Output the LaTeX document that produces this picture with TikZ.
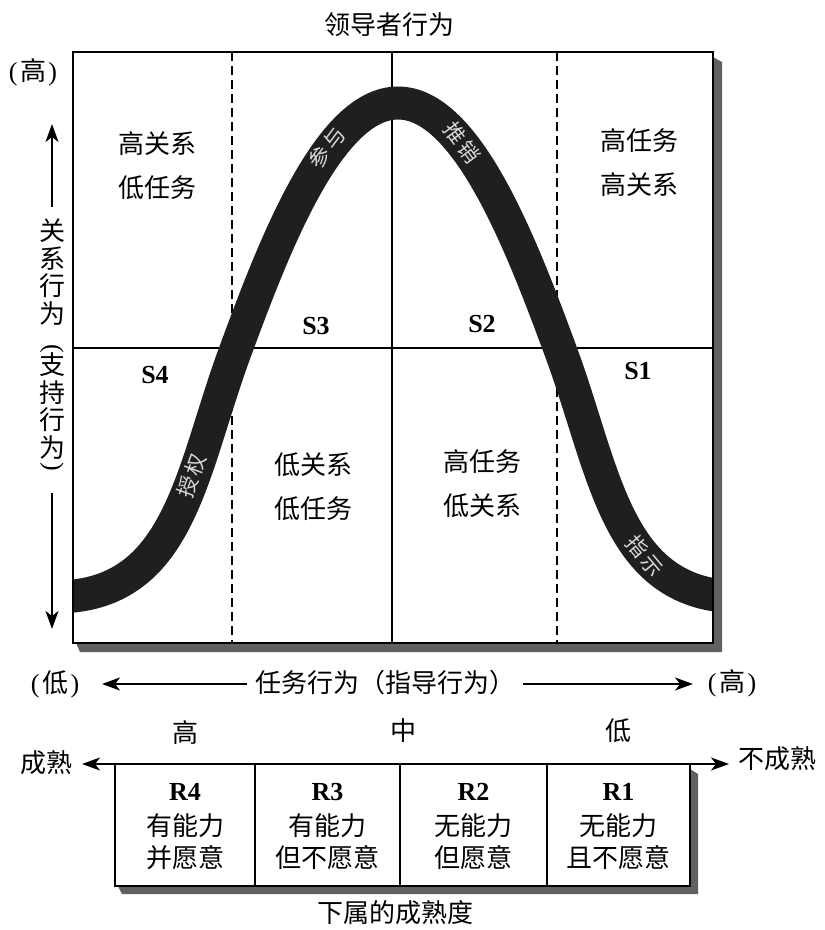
\documentclass[tikz,border=0pt]{standalone}
\usepackage{fontspec}
\setmainfont{Liberation Serif}
\newfontfamily\cjk{Noto Sans CJK SC}
\usetikzlibrary{arrows.meta}
\newcommand{\pz}[1]{(\hspace{2.5pt}{\cjk #1}\hspace{2.5pt})}
\begin{document}
\begin{tikzpicture}[x=1pt,y=-1pt,
  zh/.style={font=\cjk\fontsize{26}{30}\selectfont, inner sep=0pt},
  pn/.style={font=\fontsize{26}{30}\selectfont, inner sep=0pt},
  two/.style={align=center, font=\cjk\fontsize{26}{44}\selectfont, inner sep=0pt},
  vert/.style={align=center, font=\cjk\fontsize{26}{27.5}\selectfont, inner sep=0pt},
  slab/.style={font=\bfseries\fontsize{26}{30}\selectfont, inner sep=0pt},
  par/.style={font=\fontsize{26}{30}\selectfont, inner sep=0pt, rotate=-90},
  band/.style={font=\cjk\fontsize{21}{22}\selectfont, text=white!85!black, inner sep=0pt},
  frame/.style={line width=1.8pt},
  inner/.style={line width=1.3pt},
  dashline/.style={line width=1.3pt, dash pattern=on 9pt off 5pt},
  arr/.style={line width=1.8pt, -{Stealth[length=18pt,width=13pt,inset=5pt]}},
  biarr/.style={line width=1.8pt, {Stealth[length=18pt,width=13pt,inset=5pt]}-{Stealth[length=18pt,width=13pt,inset=5pt]}},
  shadow/.style={fill=black!62, draw=none}
]
\fill[white] (0,0) rectangle (825,930);
\useasboundingbox (0,0) rectangle (825,930);

% shadows
\path[shadow] (713,57) -- (722,62) -- (722,652) -- (80,652) -- (76,643) -- (713,643) -- cycle;
\path[shadow] (690,769) -- (698,774) -- (698,894) -- (122,894) -- (118,886) -- (690,886) -- cycle;

% inner grid lines
\draw[inner] (73,348) -- (713,348);
\draw[inner] (392,52) -- (392,643);
\draw[dashline] (232,52) -- (232,643);
\draw[dashline] (557,52) -- (557,643);

% the curve band
\begin{scope}
\clip (73,52) rectangle (713,643);
\draw[line width=33pt, draw=black!88]
  (55,597) .. controls (180,597) and (190,474) .. (235,352)
  .. controls (273,249) and (328,103) .. (398,103)
  .. controls (468,103) and (523,249) .. (561,352)
  .. controls (606,474) and (616,597) .. (741,597);
\end{scope}

% frame
\draw[frame] (73,52) rectangle (713,643);

% band labels
\node[band, rotate=53] (l1) at (327,148) {参\hspace{3pt}与};
\node[band, rotate=-53] (l2) at (462,143) {推\hspace{3pt}销};
\node[band, rotate=70] (l3) at (192,476) {授\hspace{3pt}权};
\node[band, rotate=-50] (l4) at (645,556) {指\hspace{3pt}示};

% titles
\node[zh] (top) at (389,25) {领导者行为};
\node[pn] (hi1) at (33,72) {\pz{高}};

% quadrant texts
\node[two] (q1) at (157,166) {高关系\\低任务};
\node[two] (q2) at (639,163) {高任务\\高关系};
\node[two] (q3) at (313,487) {低关系\\低任务};
\node[two] (q4) at (482,484) {高任务\\低关系};

\node[slab] (s3) at (316,326) {S3};
\node[slab] (s2) at (482,324) {S2};
\node[slab] (s4) at (155,375) {S4};
\node[slab] (s1) at (638,371) {S1};

% vertical axis
\node[vert] (yl1) at (52,272) {关\\系\\行\\为};
\node[par] (yp1) at (52,349) {(};
\node[vert] (yl2) at (52,406) {支\\持\\行\\为};
\node[par] (yp2) at (52,467) {)};
\coordinate (ua1) at (52,207);
\coordinate (ua2) at (52,124);
\coordinate (da1) at (52,493);
\coordinate (da2) at (52,629);
\draw[arr] (ua1) -- (ua2);
\draw[arr] (da1) -- (da2);

% horizontal task axis
\node[pn] (lo) at (55,684) {\pz{低}};
\node[zh] (task) at (385,683) {任务行为（指导行为）};
\node[pn] (hi2) at (732,683) {\pz{高}};
\coordinate (ta1) at (247,684);
\coordinate (ta2) at (102,684);
\coordinate (tb1) at (523,684);
\coordinate (tb2) at (693,684);
\draw[arr] (ta1) -- (ta2);
\draw[arr] (tb1) -- (tb2);

% maturity levels
\node[zh] (mh) at (185,733) {高};
\node[zh] (mm) at (403,731) {中};
\node[zh] (ml) at (618,731) {低};
\node[zh] (mat) at (46,763) {成熟};
\node[zh] (imm) at (777,759) {不成熟};
\coordinate (bl) at (82,764);
\coordinate (br) at (729,764);

% readiness boxes
\draw[frame] (115,764) rectangle (690,886);
\draw[frame] (255,764) -- (255,886);
\draw[frame] (400,764) -- (400,886);
\draw[frame] (547,764) -- (547,886);
\draw[biarr] (bl) -- (br);

\foreach \x/\r/\a/\b in {185/R4/有能力/并愿意,327.5/R3/有能力/但不愿意,473.5/R2/无能力/但愿意,618.5/R1/无能力/且不愿意}{
  \node[slab] (n\r) at (\x,792) {\r};
  \node[zh] (a\r) at (\x,826) {\a};
  \node[zh] (b\r) at (\x,858) {\b};
}

\node[zh] (bottom) at (395,913) {下属的成熟度};
\end{tikzpicture}
\end{document}
